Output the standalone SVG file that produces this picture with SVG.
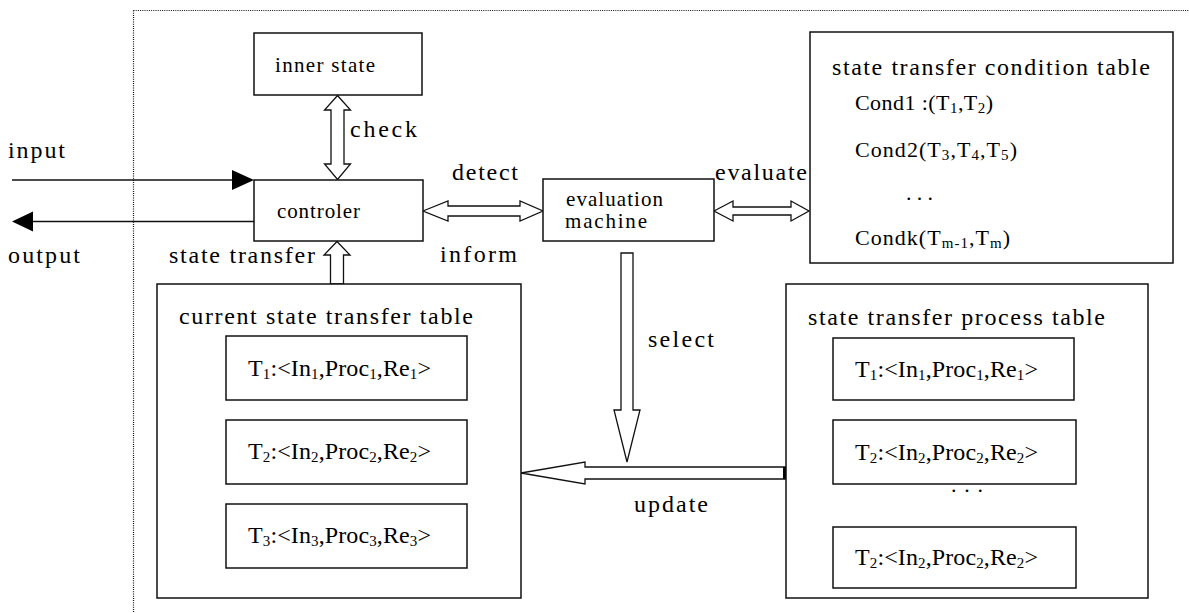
<svg xmlns="http://www.w3.org/2000/svg" width="1189" height="613" viewBox="0 0 1189 613">
  <style>
    .box { fill: #fff; stroke: #111; stroke-width: 1.5; }
    .hollow { fill: #fff; stroke: #111; stroke-width: 1.3; stroke-linejoin: miter; }
    .line { fill: none; stroke: #111; stroke-width: 1.5; }
    .frame { fill: none; stroke: #111; stroke-width: 1.2; stroke-dasharray: 1 1.2; }
    text { font-family: "Liberation Serif", "Times New Roman", serif; fill: #000; }
    .lbl { font-size: 24px; }
    .inbox { font-size: 21px; }
    .entry { font-size: 24px; }
    .cond { font-size: 22px; }
    .sub { font-size: 15px; }
  </style>

  <!-- dotted system boundary -->
  <g id="boundary">
    <line class="frame" x1="133.5" y1="10.5" x2="133.5" y2="613"/>
    <line class="frame" x1="133.5" y1="10.5" x2="1189" y2="10.5"/>
  </g>

  <!-- connectors -->
  <g id="connectors">
    <!-- input -->
    <line class="line" x1="12" y1="180" x2="234" y2="180"/>
    <polygon points="254,180 232,170 232,190" fill="#000"/>
    <!-- output -->
    <line class="line" x1="30" y1="221.5" x2="254" y2="221.5"/>
    <polygon points="12,221.5 33,211.5 33,231.5" fill="#000"/>
    <!-- check: inner state <-> controler -->
    <polygon class="hollow" points="337.5,95.5 350.5,110 344,110 344,164 350.5,164 337.5,179.5 324.5,164 331,164 331,110 324.5,110"/>
    <!-- state transfer: current table -> controler -->
    <polygon class="hollow" points="337,241.5 350,255 343.5,255 343.5,284 330.5,284 330.5,255 324,255"/>
    <!-- detect / inform -->
    <polygon class="hollow" points="423,211 448,201 448,206 520,206 520,201 543,211 520,221 520,216 448,216 448,221"/>
    <!-- evaluate -->
    <polygon class="hollow" points="714,211 733,201 733,207 791,207 791,201 809,211 791,221 791,215 733,215 733,221"/>
    <!-- select -->
    <polygon class="hollow" points="621,253 633,253 633,410 640,410 627,462 614,410 621,410"/>
    <!-- update -->
    <polygon class="hollow" points="786,467 786,479 585,479 585,484 521,473 585,462 585,467"/>
    <rect x="783" y="467" width="3" height="12" fill="#000"/>
  </g>

  <g id="inner-state">
    <rect class="box" x="254" y="33" width="168" height="62"/>
    <text class="inbox" x="275" y="72" textLength="100" lengthAdjust="spacing">inner state</text>
  </g>

  <g id="controler">
    <rect class="box" x="254" y="180" width="169" height="61"/>
    <text class="inbox" x="277" y="218" textLength="83" lengthAdjust="spacing">controler</text>
  </g>

  <g id="evaluation-machine">
    <rect class="box" x="543" y="179" width="171" height="62"/>
    <text class="inbox" x="566" y="206" textLength="97" lengthAdjust="spacing">evaluation</text>
    <text class="inbox" x="565" y="228" textLength="82" lengthAdjust="spacing">machine</text>
  </g>

  <g id="condition-table">
    <rect class="box" x="810" y="32" width="363" height="231"/>
    <text class="lbl" x="832" y="75" textLength="318" lengthAdjust="spacing">state transfer condition table</text>
    <text class="cond" x="855" y="110" textLength="138" lengthAdjust="spacing">Cond1 :(T<tspan class="sub" dy="3">1</tspan><tspan dy="-3">,T</tspan><tspan class="sub" dy="3">2</tspan><tspan dy="-3">)</tspan></text>
    <text class="cond" x="855" y="157" textLength="162" lengthAdjust="spacing">Cond2(T<tspan class="sub" dy="3">3</tspan><tspan dy="-3">,T</tspan><tspan class="sub" dy="3">4</tspan><tspan dy="-3">,T</tspan><tspan class="sub" dy="3">5</tspan><tspan dy="-3">)</tspan></text>
    <text class="cond" x="906" y="200" textLength="27" lengthAdjust="spacing">. . .</text>
    <text class="cond" x="855" y="245" textLength="155" lengthAdjust="spacing">Condk(T<tspan class="sub" dy="3">m-1</tspan><tspan dy="-3">,T</tspan><tspan class="sub" dy="3">m</tspan><tspan dy="-3">)</tspan></text>
  </g>

  <g id="current-table">
    <rect class="box" x="157" y="284" width="364" height="314"/>
    <text class="lbl" x="179" y="324" textLength="294" lengthAdjust="spacing">current state transfer table</text>
    <g id="current-t1">
      <rect class="box" x="226" y="336" width="241" height="64"/>
      <text class="entry" x="248" y="376" textLength="183" lengthAdjust="spacing">T<tspan class="sub" dy="3">1</tspan><tspan dy="-3">:&lt;In</tspan><tspan class="sub" dy="3">1</tspan><tspan dy="-3">,Proc</tspan><tspan class="sub" dy="3">1</tspan><tspan dy="-3">,Re</tspan><tspan class="sub" dy="3">1</tspan><tspan dy="-3">&gt;</tspan></text>
    </g>
    <g id="current-t2">
      <rect class="box" x="226" y="420" width="241" height="64"/>
      <text class="entry" x="248" y="459" textLength="183" lengthAdjust="spacing">T<tspan class="sub" dy="3">2</tspan><tspan dy="-3">:&lt;In</tspan><tspan class="sub" dy="3">2</tspan><tspan dy="-3">,Proc</tspan><tspan class="sub" dy="3">2</tspan><tspan dy="-3">,Re</tspan><tspan class="sub" dy="3">2</tspan><tspan dy="-3">&gt;</tspan></text>
    </g>
    <g id="current-t3">
      <rect class="box" x="226" y="504" width="241" height="64"/>
      <text class="entry" x="248" y="543" textLength="183" lengthAdjust="spacing">T<tspan class="sub" dy="3">3</tspan><tspan dy="-3">:&lt;In</tspan><tspan class="sub" dy="3">3</tspan><tspan dy="-3">,Proc</tspan><tspan class="sub" dy="3">3</tspan><tspan dy="-3">,Re</tspan><tspan class="sub" dy="3">3</tspan><tspan dy="-3">&gt;</tspan></text>
    </g>
  </g>

  <g id="process-table">
    <rect class="box" x="786" y="284" width="362" height="314"/>
    <text class="lbl" x="808" y="325" textLength="297" lengthAdjust="spacing">state transfer process table</text>
    <g id="process-t1">
      <rect class="box" x="833" y="338" width="241" height="62"/>
      <text class="entry" x="855" y="377" textLength="183" lengthAdjust="spacing">T<tspan class="sub" dy="3">1</tspan><tspan dy="-3">:&lt;In</tspan><tspan class="sub" dy="3">1</tspan><tspan dy="-3">,Proc</tspan><tspan class="sub" dy="3">1</tspan><tspan dy="-3">,Re</tspan><tspan class="sub" dy="3">1</tspan><tspan dy="-3">&gt;</tspan></text>
    </g>
    <g id="process-t2">
      <rect class="box" x="833" y="420" width="243" height="64"/>
      <text class="entry" x="855" y="460" textLength="183" lengthAdjust="spacing">T<tspan class="sub" dy="3">2</tspan><tspan dy="-3">:&lt;In</tspan><tspan class="sub" dy="3">2</tspan><tspan dy="-3">,Proc</tspan><tspan class="sub" dy="3">2</tspan><tspan dy="-3">,Re</tspan><tspan class="sub" dy="3">2</tspan><tspan dy="-3">&gt;</tspan></text>
    </g>
    <text class="cond" x="951" y="492" textLength="32" lengthAdjust="spacing">. . .</text>
    <g id="process-tn">
      <rect class="box" x="833" y="527" width="243" height="61"/>
      <text class="entry" x="855" y="565" textLength="183" lengthAdjust="spacing">T<tspan class="sub" dy="3">2</tspan><tspan dy="-3">:&lt;In</tspan><tspan class="sub" dy="3">2</tspan><tspan dy="-3">,Proc</tspan><tspan class="sub" dy="3">2</tspan><tspan dy="-3">,Re</tspan><tspan class="sub" dy="3">2</tspan><tspan dy="-3">&gt;</tspan></text>
    </g>
  </g>

  <!-- connector labels -->
  <g id="labels">
    <text class="lbl" x="8" y="158" textLength="57" lengthAdjust="spacing">input</text>
    <text class="lbl" x="8" y="263" textLength="72" lengthAdjust="spacing">output</text>
    <text class="lbl" x="350" y="137" textLength="67" lengthAdjust="spacing">check</text>
    <text class="lbl" x="169" y="263" textLength="146" lengthAdjust="spacing">state transfer</text>
    <text class="lbl" x="452" y="180" textLength="66" lengthAdjust="spacing">detect</text>
    <text class="lbl" x="440" y="262" textLength="77" lengthAdjust="spacing">inform</text>
    <text class="lbl" x="715" y="180" textLength="92" lengthAdjust="spacing">evaluate</text>
    <text class="lbl" x="648" y="347" textLength="66" lengthAdjust="spacing">select</text>
    <text class="lbl" x="634" y="512" textLength="74" lengthAdjust="spacing">update</text>
  </g>
</svg>
